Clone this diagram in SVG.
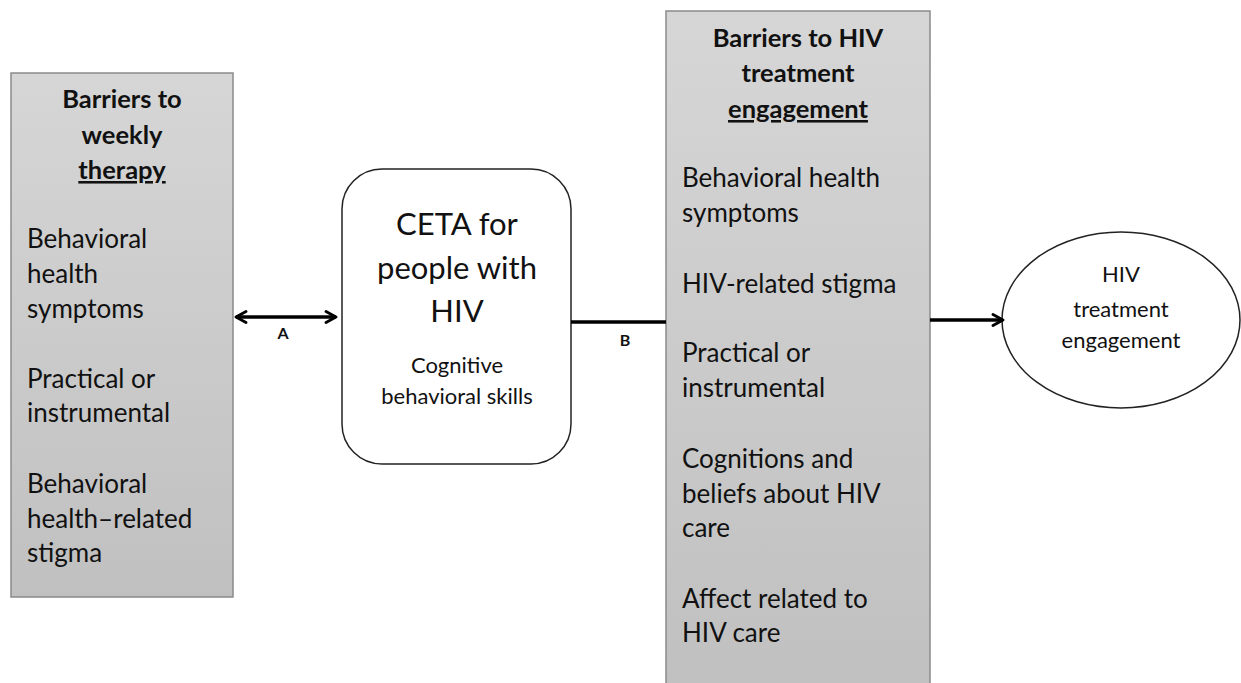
<svg xmlns="http://www.w3.org/2000/svg" width="1241" height="683" viewBox="0 0 1241 683">
  <style>
    text { font-family: Lato, "Open Sans", "Liberation Sans", sans-serif; fill: #111; }
    .title { font-size: 25.5px; font-weight: bold; text-anchor: middle; }
    .item { font-size: 26px; }
    .big { font-size: 31px; text-anchor: middle; }
    .small { font-size: 22px; text-anchor: middle; }
    .oval { font-size: 22px; text-anchor: middle; }
    .lab { font-size: 16px; font-weight: bold; text-anchor: middle; }
    .panel { fill: url(#panelFill); stroke: #8a8a8a; stroke-width: 1.5; }
    .conn { stroke: #000; stroke-width: 3.5; fill: none; }
  </style>
  <defs>
    <linearGradient id="panelFill" x1="0" y1="0" x2="0" y2="1">
      <stop offset="0" stop-color="#d6d6d6"/>
      <stop offset="1" stop-color="#c0c0c0"/>
    </linearGradient>
    <marker id="chev" viewBox="0 0 14 14" refX="12" refY="7" markerWidth="14" markerHeight="14" markerUnits="userSpaceOnUse" orient="auto-start-reverse">
      <path d="M2,1.5 L12,7 L2,12.5" fill="none" stroke="#000" stroke-width="2.8" stroke-linecap="round" stroke-linejoin="round"/>
    </marker>
  </defs>
  <rect width="1241" height="683" fill="#fff"/>

  <g id="weekly-barriers">
    <rect class="panel" x="11" y="73" width="222" height="524"/>
    <text class="title" x="122" y="108">Barriers to</text>
    <text class="title" x="122" y="144">weekly</text>
    <text class="title" x="122" y="179" text-decoration="underline">therapy</text>
    <text class="item" x="27" y="248">Behavioral</text>
    <text class="item" x="27" y="283">health</text>
    <text class="item" x="27" y="318">symptoms</text>
    <text class="item" x="27" y="388">Practical or</text>
    <text class="item" x="27" y="422">instrumental</text>
    <text class="item" x="27" y="493">Behavioral</text>
    <text class="item" x="27" y="528">health–related</text>
    <text class="item" x="27" y="562">stigma</text>
  </g>

  <g id="ceta">
    <rect x="342" y="169" width="229" height="295" rx="40" ry="40" fill="#fff" stroke="#222" stroke-width="1.5"/>
    <text class="big" x="457" y="235">CETA for</text>
    <text class="big" x="457" y="279">people with</text>
    <text class="big" x="457" y="322">HIV</text>
    <text class="small" x="457" y="373">Cognitive</text>
    <text class="small" x="457" y="404">behavioral skills</text>
  </g>

  <g id="engagement-barriers">
    <rect class="panel" x="666" y="11" width="264" height="680"/>
    <text class="title" x="798" y="47">Barriers to HIV</text>
    <text class="title" x="798" y="82">treatment</text>
    <text class="title" x="798" y="118" text-decoration="underline">engagement</text>
    <text class="item" x="682" y="187">Behavioral health</text>
    <text class="item" x="682" y="222">symptoms</text>
    <text class="item" x="682" y="293">HIV-related stigma</text>
    <text class="item" x="682" y="362">Practical or</text>
    <text class="item" x="682" y="397">instrumental</text>
    <text class="item" x="682" y="468">Cognitions and</text>
    <text class="item" x="682" y="503">beliefs about HIV</text>
    <text class="item" x="682" y="537">care</text>
    <text class="item" x="682" y="608">Affect related to</text>
    <text class="item" x="682" y="642">HIV care</text>
  </g>

  <g id="outcome">
    <ellipse cx="1121" cy="320" rx="119" ry="88" fill="#fff" stroke="#222" stroke-width="1.5"/>
    <text class="oval" x="1121" y="282">HIV</text>
    <text class="oval" x="1121" y="317">treatment</text>
    <text class="oval" x="1121" y="348">engagement</text>
  </g>

  <g id="connectors">
    <line class="conn" x1="236" y1="317" x2="336" y2="317" marker-start="url(#chev)" marker-end="url(#chev)"/>
    <text class="lab" x="283" y="339">A</text>
    <line class="conn" x1="571" y1="322" x2="666" y2="322"/>
    <text class="lab" x="625" y="346">B</text>
    <line class="conn" x1="930" y1="320" x2="1003" y2="320" marker-end="url(#chev)"/>
  </g>
</svg>
